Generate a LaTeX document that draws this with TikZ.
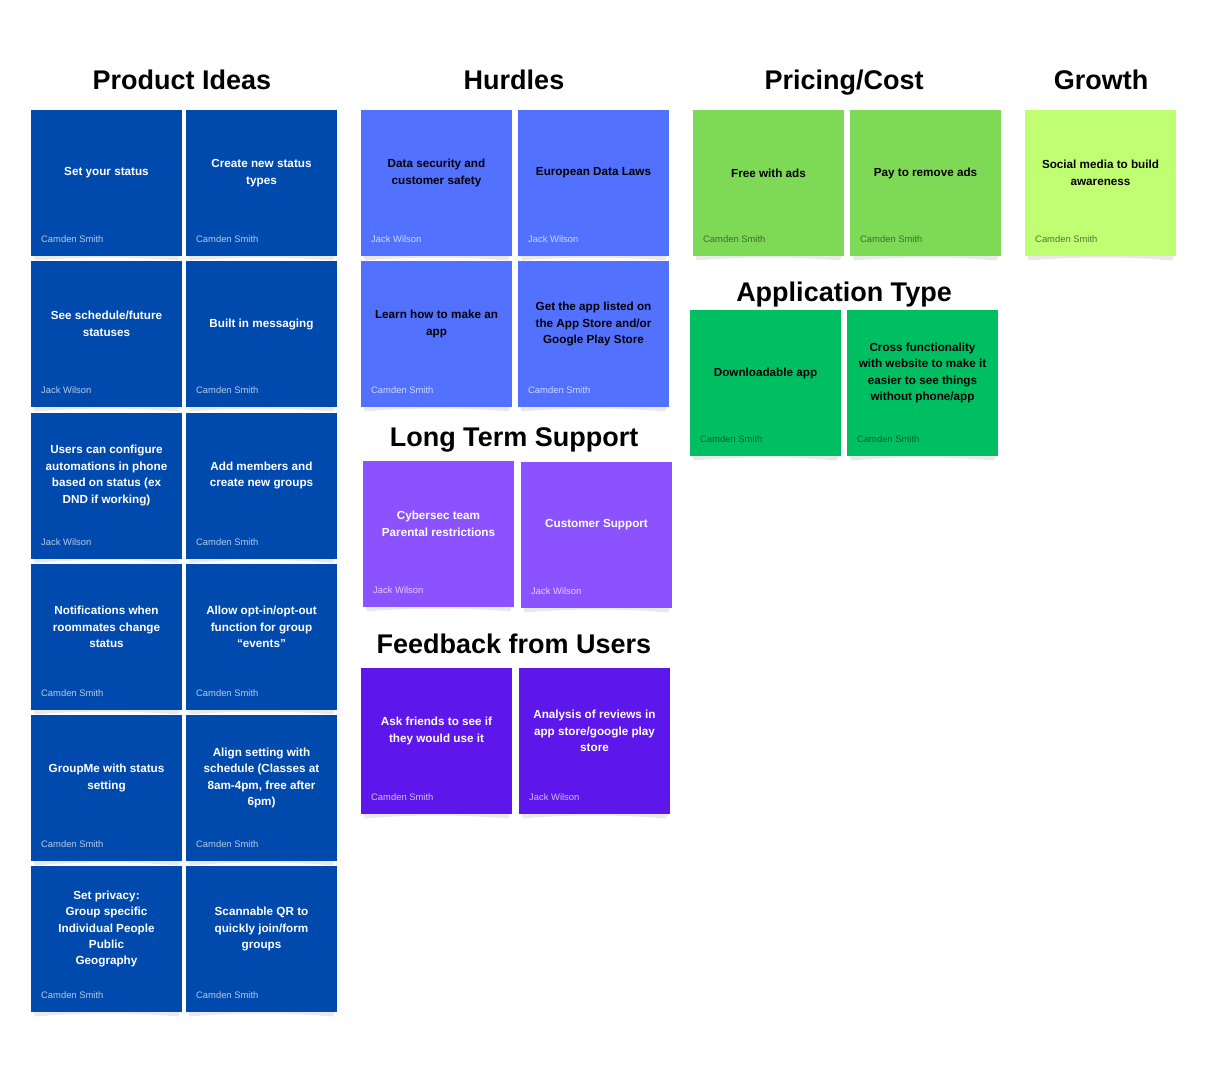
\documentclass[tikz,border=0pt]{standalone}
\usepackage{fontspec}
\setmainfont{Liberation Sans}
\usetikzlibrary{calc}

% board colours
\definecolor{ideasblue}{HTML}{014AAD}
\definecolor{hurdleblue}{HTML}{5271FF}
\definecolor{supportpurple}{HTML}{8C52FF}
\definecolor{feedbackviolet}{HTML}{5E17EB}
\definecolor{pricegreen}{HTML}{7ED957}
\definecolor{appgreen}{HTML}{00BF63}
\definecolor{growthlime}{HTML}{C1FF72}
\definecolor{noteshadow}{HTML}{E9E9EC}

\tikzset{
  sticky/.style={rectangle, minimum width=151pt, minimum height=146pt,
    inner sep=0pt, outer sep=0pt, draw=none},
  notetext/.style={align=center, inner sep=0pt,
    font=\fontsize{11.7}{16.4}\selectfont\bfseries},
  author/.style={inner sep=0pt, font=\fontsize{9.4}{11}\selectfont},
  heading/.style={inner sep=0pt, anchor=base,
    font=\fontsize{27}{30}\selectfont\bfseries, text=black},
}

% #1 name, #2 x, #3 y, #4 fill, #5 text colour, #6 author colour, #7 text, #8 author
\newcommand\stickynote[8]{%
  \fill[noteshadow] ({#2+2},{#3+145}) -- ({#2+149},{#3+145})
    -- ({#2+147},{#3+150.5}) .. controls ({#2+105},{#3+146.5}) and ({#2+46},{#3+146.5})
    .. ({#2+4},{#3+150.5}) -- cycle;
  \node[sticky, fill=#4, anchor=north west] (#1) at (#2,#3) {};
  \node[notetext, text=#5] (#1-text) at ($(#1.north)+(0,63)$) {#7};
  \node[author, text=#6, anchor=base west] (#1-author) at ($(#1.south west)+(10,-13.5)$) {#8};
}

\begin{document}
\begin{tikzpicture}[x=1pt,y=-1pt]
\fill[white] (0,0) rectangle (1217,1080);
\useasboundingbox (0,0) rectangle (1217,1080);

% headings
\node[heading] (hideas) at (182,89) {Product Ideas};
\node[heading] (hhurdles) at (514,89) {Hurdles};
\node[heading] (hpricing) at (844,89) {Pricing/Cost};
\node[heading] (hgrowth) at (1101,89) {Growth};
\node[heading] (happ) at (844,301.5) {Application Type};
\node[heading] (hsupport) at (514,446.5) {Long Term Support};
\node[heading] (hfeedback) at (514,653) {Feedback from Users};

% Product Ideas
\def\ia{white!70!ideasblue}
\stickynote{pa}{31}{110}{ideasblue}{white}{\ia}{Set your status}{Camden Smith}
\stickynote{pb}{186}{110}{ideasblue}{white}{\ia}{Create new status\\types}{Camden Smith}
\stickynote{pc}{31}{261}{ideasblue}{white}{\ia}{See schedule/future\\statuses}{Jack Wilson}
\stickynote{pd}{186}{261}{ideasblue}{white}{\ia}{Built in messaging}{Camden Smith}
\stickynote{pe}{31}{412.5}{ideasblue}{white}{\ia}{Users can configure\\automations in phone\\based on status (ex\\DND if working)}{Jack Wilson}
\stickynote{pf}{186}{412.5}{ideasblue}{white}{\ia}{Add members and\\create new groups}{Camden Smith}
\stickynote{pg}{31}{564}{ideasblue}{white}{\ia}{Notifications when\\roommates change\\status}{Camden Smith}
\stickynote{ph}{186}{564}{ideasblue}{white}{\ia}{Allow opt-in/opt-out\\function for group\\“events”}{Camden Smith}
\stickynote{pi}{31}{715}{ideasblue}{white}{\ia}{GroupMe with status\\setting}{Camden Smith}
\stickynote{pj}{186}{715}{ideasblue}{white}{\ia}{Align setting with\\schedule (Classes at\\8am-4pm, free after\\6pm)}{Camden Smith}
\stickynote{pk}{31}{866}{ideasblue}{white}{\ia}{Set privacy:\\Group specific\\Individual People\\Public\\Geography}{Camden Smith}
\stickynote{pl}{186}{866}{ideasblue}{white}{\ia}{Scannable QR to\\quickly join/form\\groups}{Camden Smith}

% Hurdles
\def\ha{white!72!hurdleblue}
\stickynote{ha}{361}{110}{hurdleblue}{black}{\ha}{Data security and\\customer safety}{Jack Wilson}
\stickynote{hb}{518}{110}{hurdleblue}{black}{\ha}{European Data Laws}{Jack Wilson}
\stickynote{hc}{361}{261}{hurdleblue}{black}{\ha}{Learn how to make an\\app}{Camden Smith}
\stickynote{hd}{518}{261}{hurdleblue}{black}{\ha}{Get the app listed on\\the App Store and/or\\Google Play Store}{Camden Smith}

% Long Term Support
\def\sa{white!72!supportpurple}
\stickynote{sa}{363}{461}{supportpurple}{white}{\sa}{Cybersec team\\Parental restrictions}{Jack Wilson}
\stickynote{sb}{521}{462}{supportpurple}{white}{\sa}{Customer Support}{Jack Wilson}

% Feedback from Users
\def\fa{white!72!feedbackviolet}
\stickynote{fa}{361}{668}{feedbackviolet}{white}{\fa}{Ask friends to see if\\they would use it}{Camden Smith}
\stickynote{fb}{519}{668}{feedbackviolet}{white}{\fa}{Analysis of reviews in\\app store/google play\\store}{Jack Wilson}

% Pricing/Cost
\def\pa{black!50!pricegreen}
\stickynote{ca}{693}{110}{pricegreen}{black}{\pa}{Free with ads}{Camden Smith}
\stickynote{cb}{850}{110}{pricegreen}{black}{\pa}{Pay to remove ads}{Camden Smith}

% Application Type
\def\aa{black!50!appgreen}
\stickynote{aa}{690}{310}{appgreen}{black}{\aa}{Downloadable app}{Camden Smith}
\stickynote{ab}{847}{310}{appgreen}{black}{\aa}{Cross functionality\\with website to make it\\easier to see things\\without phone/app}{Camden Smith}

% Growth
\def\ga{black!55!growthlime}
\stickynote{ga}{1025}{110}{growthlime}{black}{\ga}{Social media to build\\awareness}{Camden Smith}
\end{tikzpicture}
\end{document}
